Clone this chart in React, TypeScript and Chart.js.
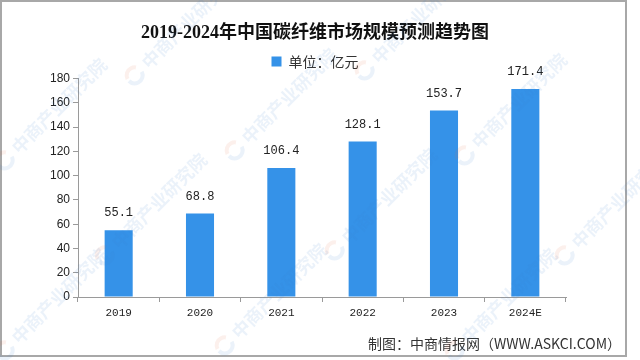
import React, { useEffect, useRef } from "react";
import { Chart, registerables } from "chart.js";

Chart.register(...registerables);

const categories = ["2019", "2020", "2021", "2022", "2023", "2024E"];
const marketSize = [55.1, 68.8, 106.4, 128.1, 153.7, 171.4];
const yMin = 0;
const yMax = 180;
const yStep = 20;
const seriesLabel = "单位：亿元";
const titleText = "2019-2024年中国碳纤维市场规模预测趋势图";
const creditText = "制图：中商情报网（WWW.ASKCI.COM）";
const watermarkText = "中商产业研究院";
const watermarkSpots = [
  [170, 40], [400, 35],
  [40, 125], [270, 115], [500, 120],
  [140, 220], [370, 215], [600, 220],
  [40, 315], [260, 310], [490, 315],
];

const BAR_COLOR = "#3592e8";
const AXIS_COLOR = "#9a9a9a";

const framePlugin = {
  id: "frame",
  beforeDraw(chart: any) {
    const { ctx, width, height } = chart;
    ctx.save();
    ctx.fillStyle = "#ffffff";
    ctx.fillRect(0, 0, width, height);
    ctx.strokeStyle = "#a8a8a8";
    ctx.lineWidth = 2;
    ctx.strokeRect(1, 1, 625, 355);
    ctx.restore();
  },
};

const valueLabelPlugin = {
  id: "valueLabels",
  afterDatasetsDraw(chart: any) {
    const { ctx } = chart;
    const meta = chart.getDatasetMeta(0);
    ctx.save();
    ctx.fillStyle = "#222";
    ctx.font = "12px 'Liberation Mono', 'DejaVu Sans Mono', monospace";
    ctx.textAlign = "center";
    ctx.textBaseline = "middle";
    meta.data.forEach((el: any, i: number) => {
      const v = chart.data.datasets[0].data[i] as number;
      ctx.fillText(v.toFixed(1), el.x, el.y - 17);
    });
    ctx.restore();
  },
};

const creditPlugin = {
  id: "credit",
  afterDraw(chart: any) {
    const { ctx } = chart;
    ctx.save();
    ctx.fillStyle = "#333";
    ctx.font = "14px 'Noto Sans CJK SC', sans-serif";
    ctx.textAlign = "right";
    ctx.textBaseline = "middle";
    ctx.fillText(creditText, 621, 344);
    // watermarks
    ctx.globalAlpha = 0.1;
    watermarkSpots.forEach(([x, y]) => {
      ctx.save();
      ctx.translate(x, y);
      ctx.rotate(-Math.PI / 4);
      ctx.lineWidth = 4;
      ctx.strokeStyle = "#e07040";
      ctx.beginPath();
      ctx.arc(-50, 0, 8, -Math.PI * 0.9, -Math.PI * 0.2);
      ctx.stroke();
      ctx.strokeStyle = "#3a7fd0";
      ctx.beginPath();
      ctx.arc(-50, 0, 8, Math.PI * 0.1, Math.PI * 1.0);
      ctx.stroke();
      ctx.fillStyle = "#3a7fd0";
      ctx.font = "bold 18px 'Noto Sans CJK SC', sans-serif";
      ctx.textAlign = "left";
      ctx.textBaseline = "middle";
      ctx.fillText(watermarkText, -36, 0);
      ctx.restore();
    });
    ctx.restore();
  },
};

export default function App() {
  const ref = useRef<HTMLCanvasElement | null>(null);

  useEffect(() => {
    if (!ref.current) return;
    const chart = new Chart(ref.current, {
      type: "bar",
      data: {
        labels: categories,
        datasets: [
          {
            label: seriesLabel,
            data: marketSize,
            backgroundColor: BAR_COLOR,
            borderWidth: 0,
            barPercentage: 0.345,
            categoryPercentage: 1,
            yAxisID: "y",
          },
        ],
      },
      options: {
        responsive: false,
        animation: false,
        layout: { padding: { left: 0, right: 10, top: 2, bottom: 0 } },
        plugins: {
          title: {
            display: true,
            text: titleText,
            color: "#111",
            font: { family: "'Liberation Serif', 'Noto Sans CJK SC', serif", size: 18, weight: "bold" },
            padding: { top: 21, bottom: 2 },
          },
          legend: {
            display: true,
            labels: {
              boxWidth: 10,
              boxHeight: 10,
              padding: 8,
              color: "#333",
              font: { family: "'Noto Sans CJK SC', sans-serif", size: 14 },
            },
          },
          tooltip: { enabled: false },
        },
        scales: {
          x: {
            grid: {
              display: true,
              drawOnChartArea: false,
              drawTicks: true,
              tickLength: 5,
              color: AXIS_COLOR,
              offset: true,
            },
            border: { display: true, color: AXIS_COLOR, width: 1 },
            ticks: {
              color: "#222",
              padding: 4,
              font: { family: "'Liberation Mono', 'DejaVu Sans Mono', monospace", size: 11 },
            },
            afterFit(scale: any) {
              scale.height = 63;
            },
          },
          y: {
            min: yMin,
            max: yMax,
            grid: {
              display: true,
              drawOnChartArea: false,
              drawTicks: true,
              tickLength: 5,
              color: AXIS_COLOR,
            },
            border: { display: true, color: AXIS_COLOR, width: 1 },
            ticks: {
              stepSize: yStep,
              color: "#222",
              padding: 3,
              font: { family: "'Liberation Sans', Arial, sans-serif", size: 12 },
            },
            afterFit(scale: any) {
              scale.width = 78;
            },
          },
          ySpacer: {
            position: "right",
            min: yMin,
            max: yMax,
            grid: { display: false },
            border: { display: false },
            ticks: { display: false },
            afterFit(scale: any) {
              scale.width = 64;
            },
          },
        },
      },
      plugins: [framePlugin, valueLabelPlugin, creditPlugin],
    });
    return () => chart.destroy();
  }, []);

  return (
    <div style={{ position: "absolute", left: 0, top: 0, width: 640, height: 360 }}>
      <canvas ref={ref} width={640} height={360} />
    </div>
  );
}
